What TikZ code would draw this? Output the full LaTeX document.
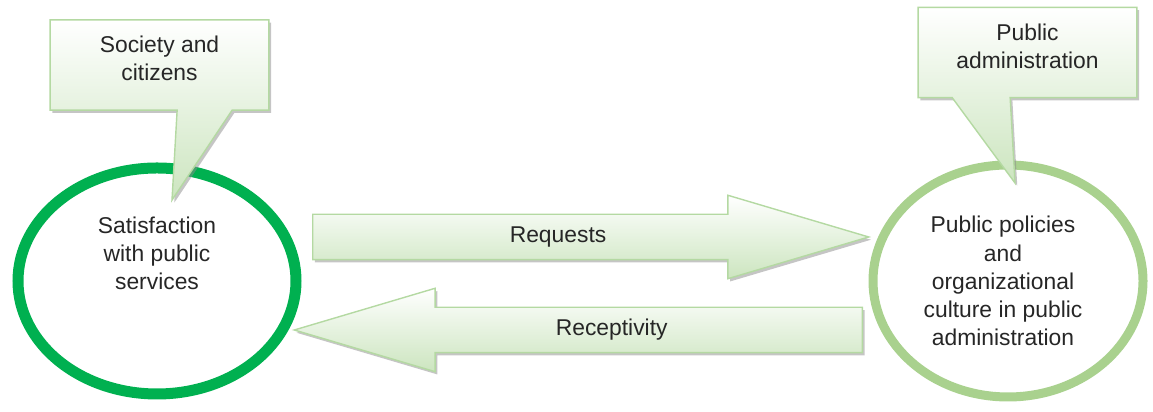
\documentclass[tikz,border=0pt]{standalone}
\usepackage{fontspec}
\setmainfont{Liberation Sans}
\usetikzlibrary{shapes, shapes.arrows, shadows, calc, positioning}
\pgfdeclarelayer{background}
\pgfsetlayers{background,main}
\definecolor{darkring}{HTML}{00B050}
\definecolor{lightring}{HTML}{A9D18E}
\definecolor{paleedge}{HTML}{B4D9A2}
\definecolor{palefill}{HTML}{CCE5BF}
\tikzset{
        every node/.style={font=\fontsize{13}{16}\selectfont, align=center, text=black!85}, % text of all nodes
        ring/.style={ellipse, inner sep=0pt}, % the two big ellipses
        callbox/.style={minimum width=4.36cm, minimum height=1.79cm, inner sep=0pt}, % box part of a callout
        callshape/.style={draw=paleedge, line width=0.8pt, top color=white, bottom color=palefill,
            drop shadow={shadow xshift=0.45mm, shadow yshift=-0.55mm, fill=black!45, opacity=0.5}},
        flow/.style={single arrow, single arrow head extend=0.38cm, single arrow tip angle=33,
            minimum width=1.66cm, inner xsep=0pt, inner ysep=0.44cm, draw=paleedge, line width=0.8pt,
            top color=white, bottom color=palefill,
            drop shadow={shadow xshift=0.45mm, shadow yshift=-0.55mm, fill=black!45, opacity=0.5}},
    }
\begin{document}
\begin{tikzpicture}
    \useasboundingbox (0,0) rectangle (23.06,8.24);
    % callout texts
    \node[callbox, label={[yshift=0.13cm]center:Society and\\citizens}] (soc) at (3.19,6.94) {};
    \node[callbox, label={[yshift=0.13cm]center:Public\\administration}] (pub) at (20.55,7.19) {};
    \coordinate (soctip) at (3.44,4.24);
    \coordinate (pubtip) at (20.3,4.58);
    \begin{pgfonlayer}{background}
      \node[ring, draw=darkring, line width=0.22cm, minimum width=5.56cm, minimum height=4.52cm,
        label={[yshift=0.56cm]center:Satisfaction\\with public\\services}] (sat) at (3.14,2.62) {};
      \node[ring, draw=lightring, line width=0.18cm, minimum width=5.4cm, minimum height=4.64cm,
        label={[xshift=-0.1cm]center:Public policies\\and\\organizational\\culture in public\\administration}] (pol) at (20.16,2.62) {};
      \path[callshape] (soc.north west) -- (soc.north east) -- (soc.south east)
        -- ($(soc.south west)+(3.64,0)$) -- (soctip) -- ($(soc.south west)+(2.54,0)$)
        -- (soc.south west) -- cycle;
      \path[callshape] (pub.north west) -- (pub.north east) -- (pub.south east)
        -- ($(pub.south west)+(1.84,0)$) -- (pubtip) -- ($(pub.south west)+(0.68,0)$)
        -- (pub.south west) -- cycle;
    \end{pgfonlayer}
    % the two flows
    \node[flow, minimum height=11.12cm, anchor=tail] (req) at (6.24,3.5) {};
    \node[flow, minimum height=11.36cm, shape border rotate=180, anchor=tail] (rec) at (17.26,1.64) {};
    \node (reqtext) at ($(req.tail)!0.44!(req.tip)$) {Requests};
    \node (rectext) at ($(rec.tail)!0.44!(rec.tip)$) {Receptivity};
\end{tikzpicture}
\end{document}
